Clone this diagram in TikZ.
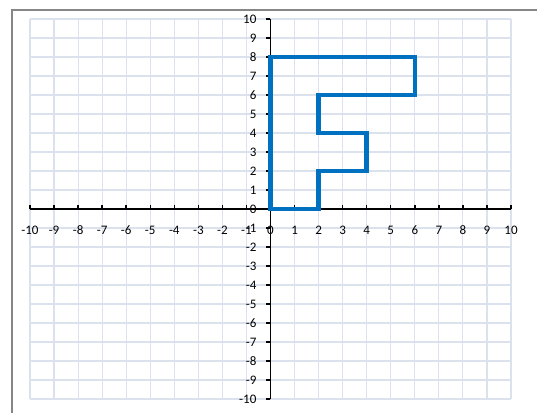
\documentclass[tikz,border=0pt]{standalone}
\usepackage{fontspec}
\setmainfont{Carlito}
\definecolor{gridc}{RGB}{220,225,238}
\definecolor{fblue}{RGB}{0,112,192}
\definecolor{framec}{RGB}{134,134,134}
\begin{document}
\begin{tikzpicture}[x=24.05pt,y=19pt,
  gridline/.style={draw=gridc,line width=1.1pt},
  axisline/.style={draw=black,line width=1.7pt},
  tickline/.style={draw=black,line width=1.4pt},
  xlab/.style={font=\fontsize{13}{13}\selectfont,inner sep=0pt,anchor=center},
  ylab/.style={font=\fontsize{13}{13}\selectfont,inner sep=0pt,anchor=east},
  fpath/.style={draw=fblue,line width=4.5pt,line join=miter},
  framel/.style={draw=framec,line width=2pt}]
\useasboundingbox (-11.247,-10.684) rectangle (11.081,11.0);
\fill[white] (-11.247,-10.684) rectangle (11.081,11.0);
% frame
\draw[framel] (-10.748,-11.5) -- (-10.748,10.474) -- (11.6,10.474);
% grid
\foreach \i in {-10,...,10} {
  \draw[gridline] (\i,-10) -- (\i,10);
  \draw[gridline] (-10,\i) -- (10,\i);
}
% axes
\draw[axisline] (-10,0) -- (10,0);
\draw[axisline] (0,-10) -- (0,10);
\foreach \i in {-10,...,10} {
  \draw[tickline] (\i,0) -- (\i,0.21);
  \draw[tickline] (0,\i) -- (-0.17,\i);
  \node[xlab] (xl\i) at (\i,-1.1) {\i};
  \node[ylab] (yl\i) at (-0.58,\i) {\i};
}
% F shape
\draw[fpath] (0,0) -- (0,8) -- (6,8) -- (6,6) -- (2,6) -- (2,4) -- (4,4) -- (4,2) -- (2,2) -- (2,0) -- cycle;
\end{tikzpicture}
\end{document}
